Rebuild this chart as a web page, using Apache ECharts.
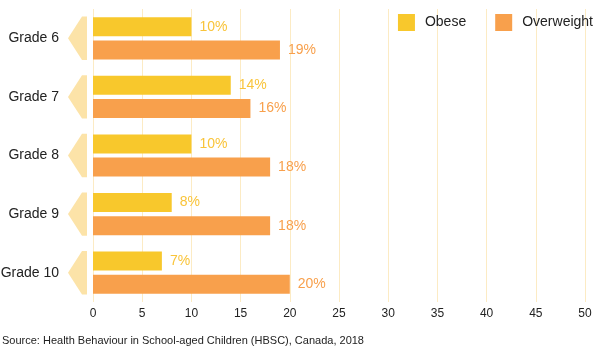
<!DOCTYPE html>
<html>
<head>
<meta charset="utf-8">
<script src="https://cdn.jsdelivr.net/npm/echarts@6/dist/echarts.min.js"></script>
<style>
  html, body { margin: 0; padding: 0; background: #fff; }
  #chart { width: 600px; height: 351px; }
</style>
</head>
<body>
<div id="chart"></div>
<script>
// grades (top to bottom)
const grades = ['Grade 6', 'Grade 7', 'Grade 8', 'Grade 9', 'Grade 10'];
const obese = [10, 14, 10, 8, 7];
const overweight = [19, 16, 18, 18, 20];

const FONT = '"Liberation Sans", Arial, Helvetica, sans-serif';
const YELLOW = '#F8C82C';
const ORANGE = '#F8A04C';

const chart = echarts.init(document.getElementById('chart'));

// pale arrow that sits beside each grade label
function renderArrow(params, api) {
  const p = api.coord([0, api.value(0)]);
  const band = api.size([0, 1])[1];
  const h = band * 0.37;
  const right = p[0] - 6;
  return {
    type: 'polygon',
    shape: {
      points: [
        [right, p[1] - h],
        [right - 5, p[1] - h],
        [right - 19, p[1]],
        [right - 5, p[1] + h],
        [right, p[1] + h]
      ]
    },
    style: { fill: '#FCE3A8' },
    silent: true
  };
}

chart.setOption({
  animation: false,
  textStyle: { fontFamily: FONT },
  legend: {
    right: 2,
    top: 9,
    itemWidth: 17,
    itemHeight: 17,
    itemGap: 29,
    icon: 'rect',
    textStyle: { fontSize: 14, color: '#222', fontFamily: FONT, padding: [0, 0, 0, 5] },
    data: ['Obese', 'Overweight']
  },
  grid: { left: 93, right: 15, top: 9, bottom: 49, outerBoundsMode: 'none', containLabel: false },
  xAxis: {
    type: 'value',
    min: 0,
    max: 50,
    interval: 5,
    axisLine: { show: false },
    axisTick: { show: false },
    axisLabel: { color: '#222', fontSize: 12, margin: 6, fontFamily: FONT },
    splitLine: { lineStyle: { color: '#FCEBC4', width: 1 } }
  },
  yAxis: {
    type: 'category',
    data: grades,
    inverse: true,
    axisLine: { show: false },
    axisTick: { show: false },
    axisLabel: { color: '#222', fontSize: 14, margin: 34, fontFamily: FONT }
  },
  series: [
    {
      name: 'Obese',
      type: 'bar',
      data: obese,
      barWidth: 19,
      barGap: '22%',
      itemStyle: { color: YELLOW },
      label: {
        show: true,
        position: 'right',
        distance: 8,
        formatter: '{c}%',
        color: '#F9C43A',
        fontSize: 14,
        fontFamily: FONT
      }
    },
    {
      name: 'Overweight',
      type: 'bar',
      data: overweight,
      barWidth: 19,
      itemStyle: { color: ORANGE },
      label: {
        show: true,
        position: 'right',
        distance: 8,
        formatter: '{c}%',
        color: '#F8A04C',
        fontSize: 14,
        fontFamily: FONT
      }
    },
    {
      type: 'custom',
      data: grades.map((g, i) => [i]),
      encode: { y: 0 },
      renderItem: renderArrow,
      silent: true,
      z: 1
    }
  ],
  graphic: [{
    type: 'text',
    left: 2,
    top: 335,
    style: {
      text: 'Source: Health Behaviour in School-aged Children (HBSC), Canada, 2018',
      fontSize: 11,
      fill: '#222',
      fontFamily: FONT
    }
  }]
});
</script>
</body>
</html>
